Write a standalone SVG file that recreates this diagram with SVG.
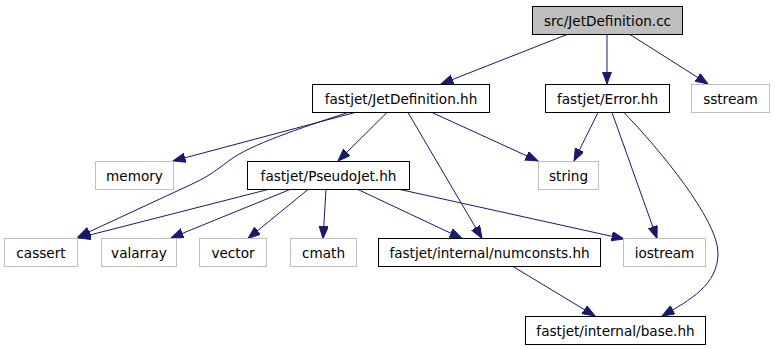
<svg xmlns="http://www.w3.org/2000/svg" width="775" height="349" viewBox="0 0 775 349">
<style>
.n rect{fill:#ffffff;stroke:#000000;stroke-width:1}
.n.g rect{stroke:#bfbfbf}
.n.root rect{fill:#bfbfbf}
.n text{font-family:"DejaVu Sans",sans-serif;font-size:13.6px;fill:#000000;text-anchor:middle}
.e path{fill:none;stroke:#191970;stroke-width:1;marker-end:url(#ah)}
</style>
<defs>
<marker id="ah" markerUnits="userSpaceOnUse" markerWidth="14" markerHeight="11" refX="12.5" refY="4.7" orient="auto" viewBox="0 0 14 11">
<path d="M0,0 L12.5,4.7 L0,9.4 Z" fill="#191970" stroke="#191970" stroke-width="1"/>
</marker>
</defs>
<rect width="775" height="349" fill="#ffffff"/>
<g id="connectors" class="e">
<path d="M567,34.5 L441,84"/>
<path d="M607,34.5 L607,84"/>
<path d="M630,34.5 L708,84"/>
<path d="M355,112.5 L173,161"/>
<path d="M348,112.5 C300,128 250,145 230,160 S205,178 190,185 L78,237"/>
<path d="M387,112.5 L338,161"/>
<path d="M408,112.5 L482,238.5"/>
<path d="M432,112.5 L538,161"/>
<path d="M598,112.5 L574,161"/>
<path d="M612,112.5 L657,238.5"/>
<path d="M624,112.5 C660,150 718,220 718,253 C718,285 690,300 662,316"/>
<path d="M268,189.5 L78,238"/>
<path d="M290,189.5 L171,238"/>
<path d="M308,189.5 L248,238.5"/>
<path d="M326,189.5 L323,238.5"/>
<path d="M358,189.5 L462,238.5"/>
<path d="M400,189.5 L624,239"/>
<path d="M513,266.5 L595,316"/>
</g>
<g id="node-cc" class="n root"><rect x="532.5" y="6.5" width="150" height="28"/><text x="607.5" y="26.3">src/JetDefinition.cc</text></g>
<g id="node-jetdef" class="n"><rect x="312.5" y="84.5" width="177" height="28"/><text x="401" y="104.3">fastjet/JetDefinition.hh</text></g>
<g id="node-error" class="n"><rect x="545.5" y="84.5" width="124" height="28"/><text x="607.5" y="104.3">fastjet/Error.hh</text></g>
<g id="node-sstream" class="n g"><rect x="691.5" y="84.5" width="78" height="28"/><text x="730.5" y="104.3">sstream</text></g>
<g id="node-memory" class="n g"><rect x="95.5" y="161.5" width="78" height="28"/><text x="134.5" y="181.3">memory</text></g>
<g id="node-pseudojet" class="n"><rect x="247.5" y="161.5" width="162" height="28"/><text x="328.5" y="181.3">fastjet/PseudoJet.hh</text></g>
<g id="node-string" class="n g"><rect x="538.5" y="161.5" width="60" height="28"/><text x="568.5" y="181.3">string</text></g>
<g id="node-cassert" class="n g"><rect x="4.5" y="238.5" width="73" height="28"/><text x="41" y="258.3">cassert</text></g>
<g id="node-valarray" class="n g"><rect x="101.5" y="238.5" width="75" height="28"/><text x="139" y="258.3">valarray</text></g>
<g id="node-vector" class="n g"><rect x="199.5" y="238.5" width="67" height="28"/><text x="233" y="258.3">vector</text></g>
<g id="node-cmath" class="n g"><rect x="290.5" y="238.5" width="66" height="28"/><text x="323.5" y="258.3">cmath</text></g>
<g id="node-numconsts" class="n"><rect x="378.5" y="238.5" width="222" height="28"/><text x="489.5" y="258.3">fastjet/internal/numconsts.hh</text></g>
<g id="node-iostream" class="n g"><rect x="623.5" y="238.5" width="82" height="28"/><text x="664.5" y="258.3">iostream</text></g>
<g id="node-base" class="n"><rect x="525.5" y="316.5" width="180" height="28"/><text x="615.5" y="336.3">fastjet/internal/base.hh</text></g>
</svg>
